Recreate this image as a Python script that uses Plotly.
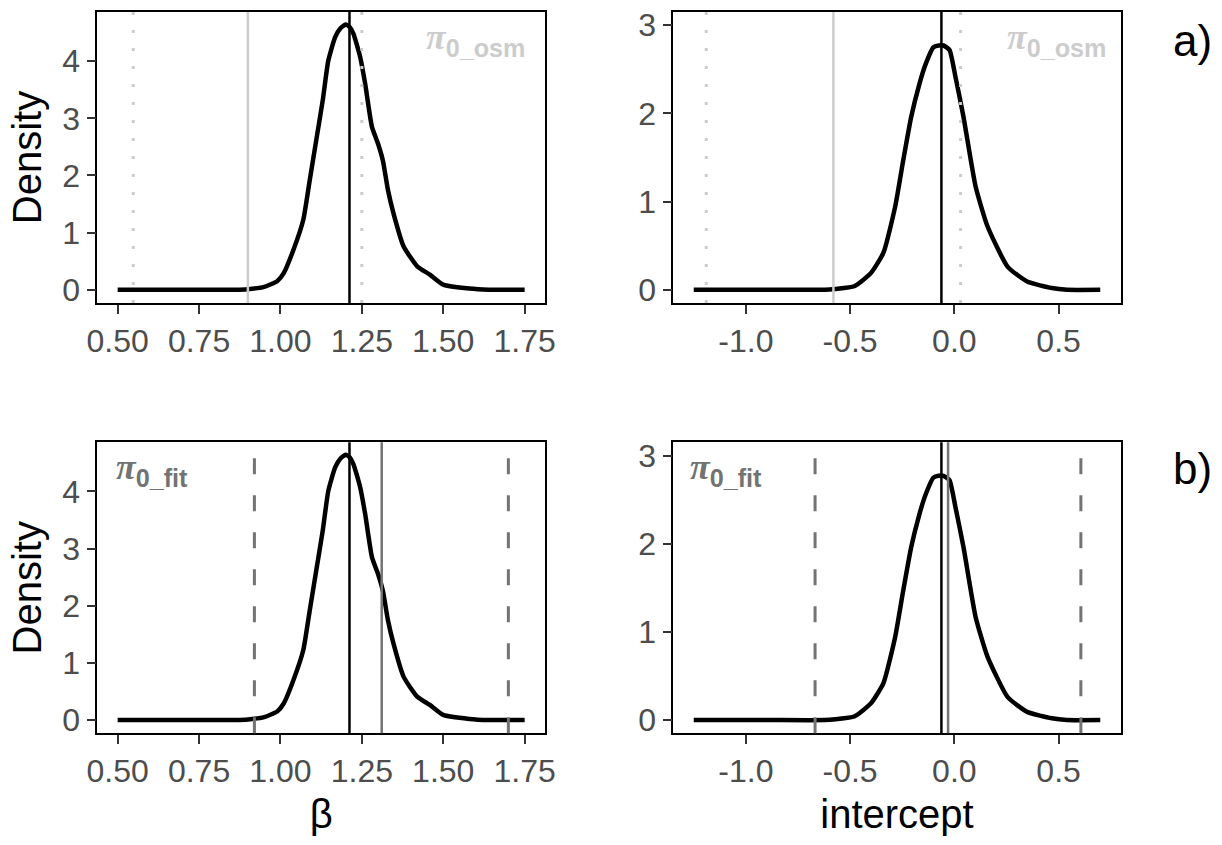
import plotly.graph_objects as go
from plotly.subplots import make_subplots

# ---------------- data ----------------
beta_x = [0.50, 0.70, 0.86, 0.90, 0.95, 0.99, 1.01, 1.04, 1.07, 1.09, 1.11, 1.13, 1.147, 1.168, 1.185, 1.20,
          1.212, 1.224, 1.245, 1.26, 1.281, 1.30, 1.315, 1.33, 1.347, 1.378, 1.42, 1.46, 1.50, 1.58, 1.64, 1.75]
beta_density = [0, 0, 0, 0.01, 0.05, 0.15, 0.29, 0.70, 1.22, 1.92, 2.62, 3.32, 4.01, 4.42, 4.58, 4.64,
                 4.60, 4.48, 4.07, 3.61, 2.85, 2.55, 2.25, 1.75, 1.34, 0.76, 0.41, 0.26, 0.09, 0.02, 0, 0]

int_x = [-1.25, -0.90, -0.62, -0.57, -0.48, -0.40, -0.34, -0.284, -0.245, -0.207, -0.168, -0.139, -0.10, -0.075,
         -0.052, -0.023, 0.005, 0.044, 0.102, 0.159, 0.256, 0.352, 0.468, 0.54, 0.70]
int_density = [0, 0, 0, 0.01, 0.04, 0.19, 0.42, 0.94, 1.47, 1.96, 2.33, 2.55, 2.75, 2.77,
               2.77, 2.72, 2.42, 1.96, 1.17, 0.72, 0.26, 0.09, 0.02, 0, 0]

beta_true = 1.212
beta_osm, beta_osm_lo, beta_osm_hi = 0.90, 0.548, 1.25
beta_fit, beta_fit_lo, beta_fit_hi = 1.311, 0.92, 1.70

int_true = -0.062
int_osm, int_osm_lo, int_osm_hi = -0.58, -1.19, 0.03
int_fit, int_fit_lo, int_fit_hi = -0.03, -0.668, 0.607

beta_ticks = [0.50, 0.75, 1.00, 1.25, 1.50, 1.75]
beta_ticktext = ["0.50", "0.75", "1.00", "1.25", "1.50", "1.75"]
int_ticks = [-1.0, -0.5, 0.0, 0.5]
int_ticktext = ["-1.0", "-0.5", "0.0", "0.5"]
beta_yticks = [0, 1, 2, 3, 4]
int_yticks = [0, 1, 2, 3]

LIGHT = "#CCCCCC"
MID = "#737373"
FONT = "Liberation Sans"

fig = make_subplots(rows=2, cols=2)

dens_line = dict(color="black", width=4.5, shape="spline", smoothing=0.5)
for r in (1, 2):
    fig.add_trace(go.Scatter(x=beta_x, y=beta_density, mode="lines",
                             line=dens_line, showlegend=False,
                             hoverinfo="skip"), row=r, col=1)
    fig.add_trace(go.Scatter(x=int_x, y=int_density, mode="lines",
                             line=dens_line, showlegend=False,
                             hoverinfo="skip"), row=r, col=2)

dot = "3px,15px"
dash = "16px,21px"

# row 1 (osm)
for col, (lo, mid, hi, tru) in {1: (beta_osm_lo, beta_osm, beta_osm_hi, beta_true),
                                2: (int_osm_lo, int_osm, int_osm_hi, int_true)}.items():
    fig.add_vline(x=lo, line=dict(color=LIGHT, width=3, dash=dot), row=1, col=col)
    fig.add_vline(x=hi, line=dict(color=LIGHT, width=3, dash=dot), row=1, col=col)
    fig.add_vline(x=mid, line=dict(color=LIGHT, width=2.5), row=1, col=col)
    fig.add_vline(x=tru, line=dict(color="black", width=2.5), row=1, col=col)

# row 2 (fit)
for col, (lo, mid, hi, tru) in {1: (beta_fit_lo, beta_fit, beta_fit_hi, beta_true),
                                2: (int_fit_lo, int_fit, int_fit_hi, int_true)}.items():
    fig.add_vline(x=lo, line=dict(color=MID, width=3, dash=dash), row=2, col=col)
    fig.add_vline(x=hi, line=dict(color=MID, width=3, dash=dash), row=2, col=col)
    fig.add_vline(x=tru, line=dict(color="black", width=2.5), row=2, col=col)
    fig.add_vline(x=mid, line=dict(color=MID, width=2.5), row=2, col=col)

W, H = 1222, 845
xl = [97.3 / W, 545 / W]
xr = [673.3 / W, 1120.7 / W]
yt = [1 - 303 / H, 1 - 12 / H]
yb = [1 - 733.3 / H, 1 - 442.3 / H]

axis_common = dict(showgrid=False, zeroline=False, showline=True, mirror=True,
                   linecolor="black", linewidth=1.5, ticks="outside", ticklen=9,
                   tickwidth=1.5, tickcolor="#333333", automargin=False,
                   tickfont=dict(family=FONT, size=32, color="#4D4D4D"))

fig.update_layout(
    xaxis=dict(domain=xl, range=[0.4375, 1.8125], tickvals=beta_ticks, ticktext=beta_ticktext, **axis_common),
    xaxis2=dict(domain=xr, range=[-1.348, 0.798], tickvals=int_ticks, ticktext=int_ticktext, **axis_common),
    xaxis3=dict(domain=xl, range=[0.4375, 1.8125], tickvals=beta_ticks, ticktext=beta_ticktext,
                title=dict(text="β", font=dict(family=FONT, size=40, color="black"), standoff=12), **axis_common),
    xaxis4=dict(domain=xr, range=[-1.348, 0.798], tickvals=int_ticks, ticktext=int_ticktext,
                title=dict(text="intercept", font=dict(family=FONT, size=40, color="black"), standoff=12), **axis_common),
    yaxis=dict(domain=yt, range=[-0.232, 4.86], tickvals=beta_yticks,
               title=dict(text="Density", font=dict(family=FONT, size=40, color="black"), standoff=8), **axis_common),
    yaxis2=dict(domain=yt, range=[-0.15, 3.15], tickvals=int_yticks, **axis_common),
    yaxis3=dict(domain=yb, range=[-0.232, 4.86], tickvals=beta_yticks,
                title=dict(text="Density", font=dict(family=FONT, size=40, color="black"), standoff=8), **axis_common),
    yaxis4=dict(domain=yb, range=[-0.15, 3.15], tickvals=int_yticks, **axis_common),
)

PI = '<span style="font-family:Liberation Serif;font-style:italic">π</span>'
ann_font_osm = dict(family=FONT, size=36, color=LIGHT)
ann_font_fit = dict(family=FONT, size=36, color=MID)
annotations = [
    dict(text=f"<b>{PI}<sub>0_osm</sub></b>", xref="x domain", yref="y domain", x=0.96, y=0.99,
         xanchor="right", yanchor="top", showarrow=False, font=ann_font_osm),
    dict(text=f"<b>{PI}<sub>0_osm</sub></b>", xref="x2 domain", yref="y2 domain", x=0.972, y=0.99,
         xanchor="right", yanchor="top", showarrow=False, font=ann_font_osm),
    dict(text=f"<b>{PI}<sub>0_fit</sub></b>", xref="x3 domain", yref="y3 domain", x=0.037, y=0.99,
         xanchor="left", yanchor="top", showarrow=False, font=ann_font_fit),
    dict(text=f"<b>{PI}<sub>0_fit</sub></b>", xref="x4 domain", yref="y4 domain", x=0.033, y=0.99,
         xanchor="left", yanchor="top", showarrow=False, font=ann_font_fit),
    dict(text="a)", xref="paper", yref="paper", x=1192 / W, y=1 - 41 / H, xanchor="center",
         yanchor="middle", showarrow=False, font=dict(family=FONT, size=44, color="black")),
    dict(text="b)", xref="paper", yref="paper", x=1192 / W, y=1 - 468 / H, xanchor="center",
         yanchor="middle", showarrow=False, font=dict(family=FONT, size=44, color="black")),
]
fig.update_layout(annotations=annotations)

fig.update_layout(width=W, height=H, margin=dict(l=0, r=0, t=0, b=0),
                  template="none", plot_bgcolor="white", paper_bgcolor="white",
                  showlegend=False, font=dict(family=FONT))

fig.write_html("out.html")
